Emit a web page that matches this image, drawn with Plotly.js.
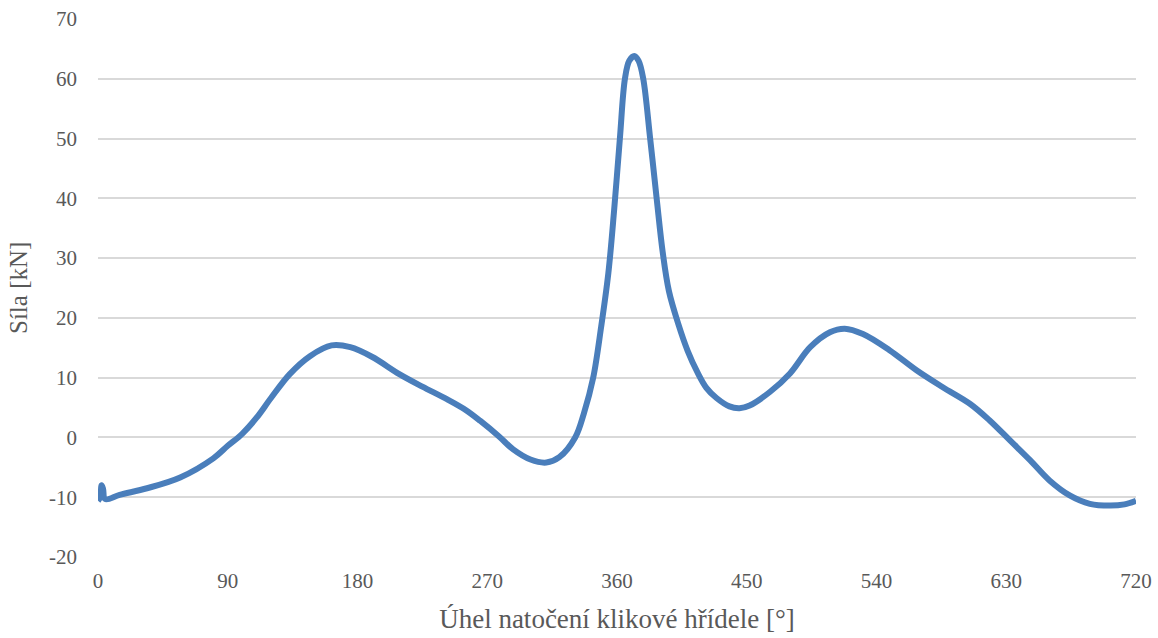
<!DOCTYPE html>
<html>
<head>
<meta charset="utf-8">
<script src="https://cdn.plot.ly/plotly-3.0.1.min.js"></script>
<style>html,body{margin:0;padding:0;background:#fff;}#chart{width:1158px;height:638px;}</style>
</head>
<body>
<div id="chart"></div>
<script>
const angle = [0, 1.5, 2.5, 3.5, 5, 15, 34, 57, 80, 90, 100, 110, 120, 133, 147, 162, 175, 190, 209, 225, 242, 255, 265, 278, 288, 300, 311, 320, 331, 337, 343.5, 349, 354, 358, 362, 365.5, 368.5, 372, 375, 378.2, 383, 387.5, 391.7, 396, 402.5, 409, 416, 422, 429, 438, 445, 452, 466, 480, 494, 507.7, 518, 530.6, 549, 568, 586, 605, 618.7, 632.6, 646.5, 660, 674, 688, 702, 712, 720];
const force = [-10.6, -10.0, -8.0, -8.6, -10.3, -9.6, -8.5, -6.7, -3.5, -1.4, 0.6, 3.3, 6.6, 10.6, 13.6, 15.4, 15.1, 13.5, 10.6, 8.5, 6.4, 4.6, 2.8, 0.2, -2.0, -3.7, -4.2, -3.3, 0.0, 4.0, 10.0, 18.5, 27.5, 38.0, 50.0, 60.0, 63.0, 63.8, 63.0, 60.0, 50.0, 40.0, 31.0, 24.5, 19.0, 14.5, 10.8, 8.3, 6.6, 5.2, 4.9, 5.35, 7.6, 10.7, 15.1, 17.6, 18.2, 17.3, 14.6, 11.2, 8.4, 5.6, 2.8, -0.5, -3.8, -7.2, -9.7, -11.1, -11.4, -11.2, -10.6];
const xTicks = [0, 90, 180, 270, 360, 450, 540, 630, 720];
const yTicks = [-20, -10, 0, 10, 20, 30, 40, 50, 60, 70];
const xTitle = 'Úhel natočení klikové hřídele [°]';
const yTitle = 'Síla [kN]';

const fam = 'Times New Roman';
Plotly.newPlot('chart', [{
  x: angle, y: force, type: 'scatter', mode: 'lines',
  line: {color: '#4a7ebb', width: 6, shape: 'spline', smoothing: 1},
  hoverinfo: 'x+y'
}], {
  width: 1158, height: 638,
  margin: {l: 98, r: 22, t: 19, b: 81},
  paper_bgcolor: '#fff', plot_bgcolor: '#fff',
  showlegend: false,
  font: {family: fam, color: '#595959'},
  xaxis: {
    range: [0, 720], tickvals: xTicks, ticktext: xTicks.map(String),
    showgrid: false, zeroline: false, showline: false, ticks: '',
    tickfont: {family: fam, size: 21, color: '#595959'}, ticklabelstandoff: 9,
    title: {text: xTitle, font: {family: fam, size: 27, color: '#595959'}, standoff: 17}
  },
  yaxis: {
    range: [-20, 70], tickvals: yTicks, ticktext: yTicks.map(String),
    showgrid: true, gridcolor: '#d9d9d9', gridwidth: 1.5, zeroline: false, showline: false, ticks: '',
    tickfont: {family: fam, size: 21, color: '#595959'}, ticklabelstandoff: 20,
    title: {text: ''}
  },
  annotations: [{
    text: yTitle, xref: 'paper', yref: 'paper', x: 0, y: 0.5, xshift: -80,
    xanchor: 'center', yanchor: 'middle', textangle: -90, showarrow: false,
    font: {family: fam, size: 25, color: '#595959'}
  }]
}, {displayModeBar: false});
</script>
</body>
</html>
